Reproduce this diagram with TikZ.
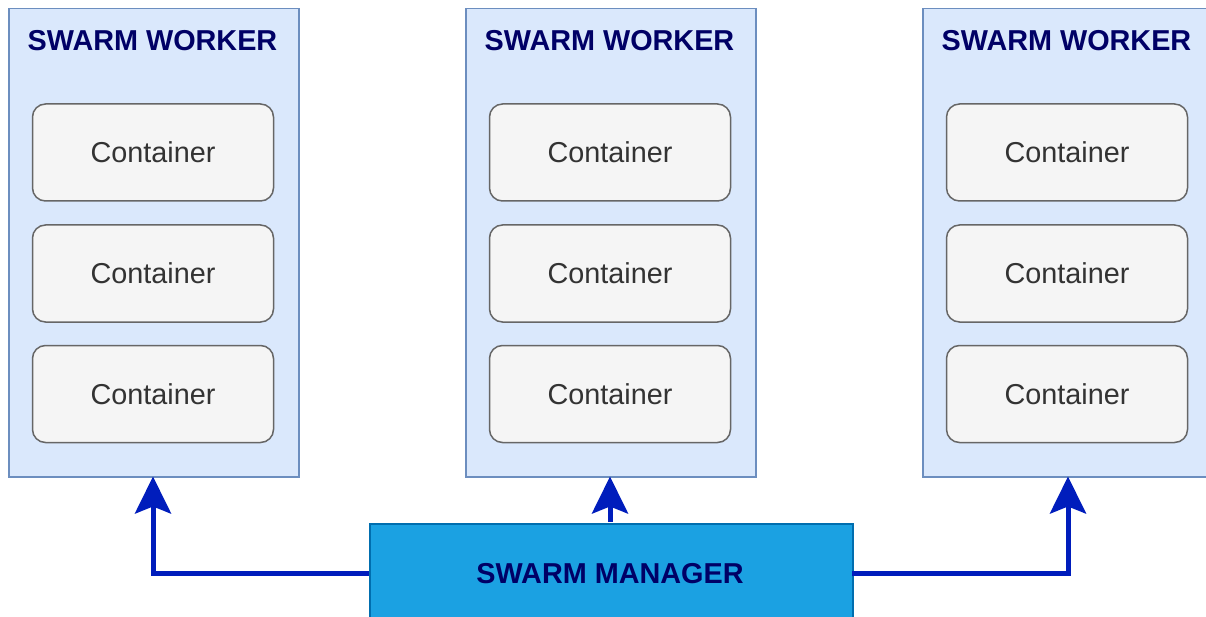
\documentclass[tikz,border=0pt]{standalone}
\usepackage{fontspec}
\setmainfont{Liberation Sans}
\usetikzlibrary{arrows.meta}
\definecolor{wfill}{HTML}{DAE8FC}
\definecolor{wdraw}{HTML}{6C8EBF}
\definecolor{cfill}{HTML}{F5F5F5}
\definecolor{cdraw}{HTML}{666666}
\definecolor{ctext}{HTML}{333333}
\definecolor{mfill}{HTML}{1BA1E2}
\definecolor{mdraw}{HTML}{006EAF}
\definecolor{navy}{HTML}{000066}
\definecolor{arr}{HTML}{001DBC}
\tikzset{
  worker/.style={draw=wdraw, fill=wfill, line width=1.5pt, minimum width=290pt, minimum height=468pt, inner sep=0pt, anchor=north west},
  wtitle/.style={font=\fontsize{28.8}{31}\selectfont\bfseries, text=navy, inner sep=0pt},
  cont/.style={draw=cdraw, fill=cfill, line width=1.5pt, rounded corners=13pt, minimum width=241pt, minimum height=97pt, inner sep=0pt, font=\fontsize{28.8}{31}\selectfont, text=ctext},
  manager/.style={draw=mdraw, fill=mfill, line width=1.5pt, minimum width=483pt, minimum height=100pt, inner sep=0pt, anchor=north west},
  mtitle/.style={font=\fontsize{28.8}{31}\selectfont\bfseries, text=navy, inner sep=0pt},
  conn/.style={draw=arr, line width=5pt, -{Stealth[length=37pt,width=36pt,inset=7pt]}},
}
\begin{document}
\begin{tikzpicture}[x=1pt,y=-1pt]
\useasboundingbox (0,0) rectangle (1206,617);
\clip (0,0) rectangle (1206,617);
\fill[white] (0,0) rectangle (1206,617);
% workers
\node[worker] (w1) at (8,8) {};
\node[worker] (w2) at (465,8) {};
\node[worker] (w3) at (922,8) {};
\node[wtitle] (t1) at (152.5,41) {SWARM WORKER};
\node[wtitle] (t2) at (609.5,41) {SWARM WORKER};
\node[wtitle] (t3) at (1066.5,41) {SWARM WORKER};
% containers
\node[cont] (c11) at (153,152.5) {Container};
\node[cont] (c12) at (153,273.5) {Container};
\node[cont] (c13) at (153,394) {Container};
\node[cont] (c21) at (610,152.5) {Container};
\node[cont] (c22) at (610,273.5) {Container};
\node[cont] (c23) at (610,394) {Container};
\node[cont] (c31) at (1067,152.5) {Container};
\node[cont] (c32) at (1067,273.5) {Container};
\node[cont] (c33) at (1067,394) {Container};
% manager
\node[manager] (m) at (369,523) {};
\node[mtitle] (mt) at (610,574) {SWARM MANAGER};
% connectors
\coordinate (m1) at (369,573);
\coordinate (m3) at (852,573);
\coordinate (m2) at (610,522);
\coordinate (e1) at (153,476.5);
\coordinate (e2) at (610,476.5);
\coordinate (e3) at (1068,476.5);
\draw[conn] (m1) -| (e1);
\draw[conn] (m2) -- (e2);
\draw[conn] (m3) -| (e3);
\end{tikzpicture}
\end{document}
